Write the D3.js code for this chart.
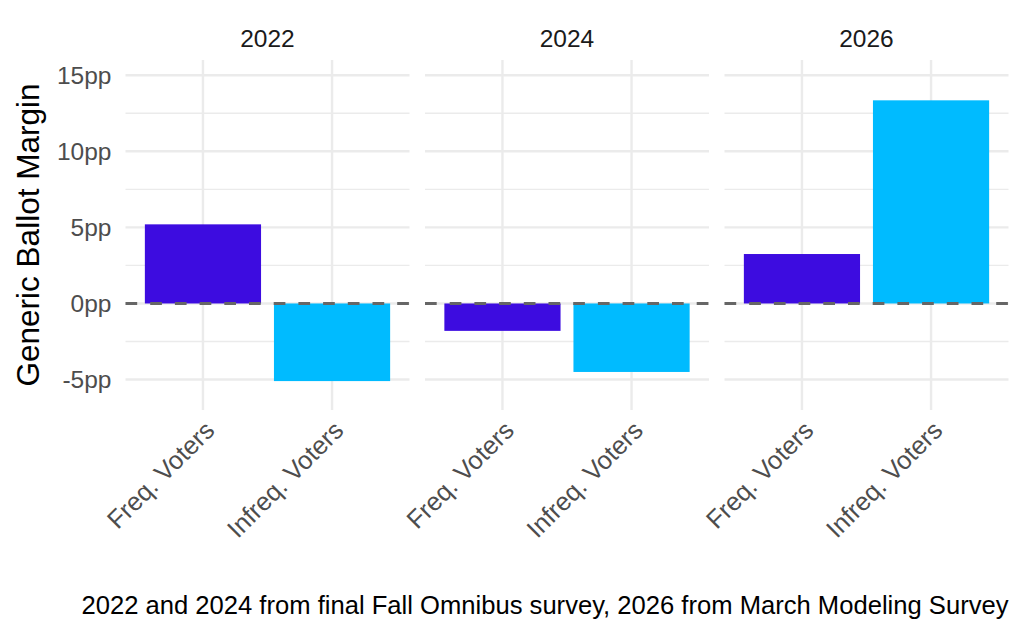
<!DOCTYPE html>
<html>
<head>
<meta charset="utf-8">
<script src="https://cdn.jsdelivr.net/npm/d3@7"></script>
<style>
  body { margin: 0; background: #fff; }
  svg text { font-family: "Liberation Sans", Arial, Helvetica, sans-serif; }
</style>
</head>
<body>
<svg id="chart" width="1024" height="640"></svg>
<script>
// data
var years = ["2022", "2024", "2026"];
var groups = ["Freq. Voters", "Infreq. Voters"];
var freqMargin = [5.2, -1.8, 3.25];
var infreqMargin = [-5.1, -4.5, 13.35];
var yTicks = [-5, 0, 5, 10, 15];
var yMinor = [-2.5, 2.5, 7.5, 12.5];
var groupColors = ["#3d0ce0", "#00bbff"];
var caption = "2022 and 2024 from final Fall Omnibus survey, 2026 from March Modeling Survey";

var svg = d3.select("#chart");

var plotLeft = 125.5, plotRight = 1008.5, plotTop = 60, plotBottom = 410;
var gap = 15.5;

// facets
var panel = d3.scaleBand()
    .domain(years)
    .range([plotLeft, plotRight])
    .paddingInner(gap / ((plotRight - plotLeft + gap) / 3))
    .paddingOuter(0);

var y = d3.scaleLinear()
    .domain([-7, 16])
    .range([plotBottom, plotTop]);

var x = d3.scaleBand()
    .domain(groups)
    .range([0, panel.bandwidth()])
    .paddingInner(0.1)
    .paddingOuter(0.15);

var color = d3.scaleOrdinal().domain(groups).range(groupColors);

var rows = [];
years.forEach(function(yr, i) {
    rows.push({year: yr, group: groups[0], value: freqMargin[i]});
    rows.push({year: yr, group: groups[1], value: infreqMargin[i]});
});

var panels = svg.selectAll("g.panel")
    .data(years)
    .enter()
    .append("g")
    .attr("class", "panel")
    .attr("transform", function(d) { return "translate(" + panel(d) + ",0)"; });

// minor grid
panels.selectAll("line.minor")
    .data(yMinor)
    .enter()
    .append("line")
    .attr("x1", 0)
    .attr("x2", panel.bandwidth())
    .attr("y1", function(d) { return y(d); })
    .attr("y2", function(d) { return y(d); })
    .attr("stroke", "#ebebeb")
    .attr("stroke-width", 1.3);

// major grid
panels.selectAll("line.major")
    .data(yTicks)
    .enter()
    .append("line")
    .attr("x1", 0)
    .attr("x2", panel.bandwidth())
    .attr("y1", function(d) { return y(d); })
    .attr("y2", function(d) { return y(d); })
    .attr("stroke", "#ebebeb")
    .attr("stroke-width", 2.4);

panels.selectAll("line.vgrid")
    .data(groups)
    .enter()
    .append("line")
    .attr("x1", function(d) { return x(d) + x.bandwidth() / 2; })
    .attr("x2", function(d) { return x(d) + x.bandwidth() / 2; })
    .attr("y1", plotTop)
    .attr("y2", plotBottom)
    .attr("stroke", "#ebebeb")
    .attr("stroke-width", 2.4);

// bars
panels.selectAll("rect")
    .data(function(yr) { return rows.filter(function(r) { return r.year == yr; }); })
    .enter()
    .append("rect")
    .attr("x", function(d) { return x(d.group); })
    .attr("width", x.bandwidth())
    .attr("y", function(d) { return y(Math.max(0, d.value)); })
    .attr("height", function(d) { return Math.abs(y(d.value) - y(0)); })
    .attr("fill", function(d) { return color(d.group); });

// zero line
panels.append("line")
    .attr("x1", 0)
    .attr("x2", panel.bandwidth())
    .attr("y1", y(0))
    .attr("y2", y(0))
    .attr("stroke", "#666666")
    .attr("stroke-width", 3)
    .attr("stroke-dasharray", "11.7,13");

// strip titles
panels.append("text")
    .attr("x", panel.bandwidth() / 2)
    .attr("y", 47)
    .attr("text-anchor", "middle")
    .style("font-size", "24.5px")
    .style("fill", "#1a1a1a")
    .text(function(d) { return d; });

// x labels
panels.each(function() {
    var g = d3.select(this).append("g")
        .attr("transform", "translate(0," + (plotBottom + 9) + ")")
        .call(d3.axisBottom(x).tickSize(0).tickPadding(0));
    g.select(".domain").remove();
    g.selectAll("text")
        .attr("text-anchor", "end")
        .attr("dy", "0.72em")
        .attr("transform", "rotate(-45)")
        .style("font-size", "25.5px")
        .style("fill", "#4d4d4d");
});

// y axis labels
var yAxis = svg.append("g")
    .attr("transform", "translate(" + plotLeft + ",0)")
    .call(d3.axisLeft(y).tickValues(yTicks).tickSize(0).tickPadding(14)
        .tickFormat(function(d) { return d + "pp"; }));
yAxis.select(".domain").remove();
yAxis.selectAll("text")
    .style("font-size", "24.5px")
    .style("font-family", "'Liberation Sans', Arial, sans-serif")
    .style("fill", "#4d4d4d");

// y title
svg.append("text")
    .attr("transform", "translate(39," + ((plotTop + plotBottom) / 2) + ") rotate(-90)")
    .attr("text-anchor", "middle")
    .style("font-size", "31.5px")
    .style("fill", "#000")
    .text("Generic Ballot Margin");

// caption
svg.append("text")
    .attr("x", plotRight)
    .attr("y", 614)
    .attr("text-anchor", "end")
    .style("font-size", "25.6px")
    .style("fill", "#000")
    .text(caption);
</script>
</body>
</html>
